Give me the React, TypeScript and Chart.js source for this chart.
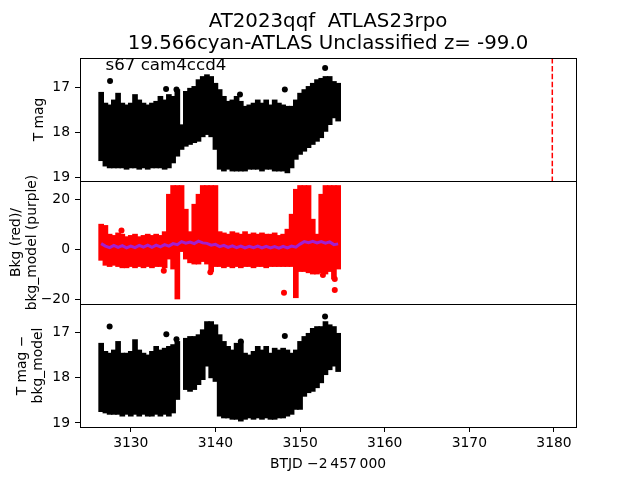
import React, { useEffect, useRef } from "react";
import { Chart, registerables } from "chart.js";

Chart.register(...registerables);

// ---------- text ----------
const titleLines = ["AT2023qqf  ATLAS23rpo", "19.566cyan-ATLAS Unclassified z= -99.0"];
const panelNote = "s67 cam4ccd4";
const xAxisTitle = "BTJD \u22122\u2009457\u2009000";
const yTitleTop = ["T mag"];
const yTitleMiddle = ["Bkg (red)/", "bkg_model (purple)"];
const yTitleBottom = ["T mag \u2212", "bkg_model"];
const discoveryTime = 3179.8;

// ---------- ticks ----------
const xTicks = [3130, 3140, 3150, 3160, 3170, 3180];
const magTicks = [17, 18, 19];
const bkgTicks = [-20, 0, 20];

// ---------- binned light curve (time bins, BTJD - 2457000) ----------
const binTimes = [
  3126.5, 3127.0, 3127.5, 3128.0, 3128.5, 3129.0, 3129.5, 3130.0, 3130.5, 3131.0,
  3131.5, 3132.0, 3132.5, 3133.0, 3133.5, 3134.0, 3134.5, 3135.0, 3135.5, 3136.0,
  3136.5, 3137.0, 3137.5, 3138.0, 3138.5, 3139.0, 3139.5, 3140.0, 3140.5, 3141.0,
  3141.5, 3142.0, 3142.5, 3143.0, 3143.5, 3144.0, 3144.5, 3145.0, 3145.5, 3146.0,
  3146.5, 3147.0, 3147.5, 3148.0, 3148.5, 3149.0, 3149.5, 3150.0, 3150.5, 3151.0,
  3151.5, 3152.0, 3152.5, 3153.0, 3153.5, 3154.0, 3154.5,
];

// top panel: T mag range (bright edge, faint edge incl. error bars)
const tmagBright = [
  17.10, 17.34, 17.38, 17.27, 17.12, 17.34, 17.38, 17.34, 17.15, 17.27,
  17.34, 17.38, 17.34, 17.30, 17.19, 17.27, 17.15, 17.19, 17.04, 17.82,
  17.08, 17.01, 16.97, 16.82, 16.75, 16.71, 16.75, 16.90, 17.04, 17.19,
  17.30, 17.27, 17.19, 17.30, 17.41, 17.38, 17.34, 17.27, 17.34, 17.27,
  17.38, 17.27, 17.34, 17.38, 17.41, 17.41, 17.27, 17.12, 17.04, 16.97,
  16.90, 16.82, 16.79, 16.75, 16.75, 16.86, 16.90,
];
const tmagFaint = [
  18.62, 18.74, 18.78, 18.78, 18.78, 18.78, 18.81, 18.78, 18.78, 18.81,
  18.78, 18.81, 18.78, 18.78, 18.78, 18.81, 18.78, 18.67, 18.52, 18.37,
  18.30, 18.26, 18.22, 18.19, 18.09, 18.04, 18.09, 18.37, 18.81, 18.85,
  18.81, 18.85, 18.85, 18.85, 18.85, 18.81, 18.81, 18.81, 18.85, 18.81,
  18.81, 18.85, 18.85, 18.85, 18.89, 18.78, 18.59, 18.48, 18.41, 18.33,
  18.26, 18.19, 18.11, 17.97, 17.82, 17.67, 17.74,
];

// middle panel: background flux range
const bkgHigh = [
  10.0, 9.5, 6.0, 5.5, 6.5, 6.0, 5.0, 5.5, 6.0, 5.0,
  5.5, 6.0, 5.5, 6.0, 5.5, 7.0, 22.0, 25.5, 25.5, 25.5,
  16.0, 7.0, 18.0, 22.0, 25.5, 25.5, 25.5, 25.5, 7.0, 6.5,
  6.0, 7.0, 6.5, 6.0, 7.0, 6.0, 6.5, 6.0, 6.5, 6.0,
  6.0, 6.5, 5.5, 6.0, 8.0, 14.0, 24.0, 25.5, 25.5, 25.5,
  12.0, 6.0, 22.0, 25.5, 25.5, 25.5, 25.5,
];
const bkgLow = [
  -4.5, -6.5, -7.0, -6.5, -7.0, -7.5, -7.5, -7.0, -7.5, -7.0,
  -7.5, -7.0, -7.5, -7.0, -7.0, -7.5, -4.0, -8.0, -20.0, -1.0,
  -4.0, -5.5, -6.0, -6.0, -5.0, -6.0, -9.0, -7.0, -7.0, -7.5,
  -7.0, -7.5, -7.0, -7.5, -7.0, -7.0, -7.5, -7.0, -7.0, -7.5,
  -7.0, -7.0, -7.0, -7.0, -7.0, -7.0, -19.5, -9.0, -9.0, -9.5,
  -10.0, -10.0, -9.5, -10.0, -9.0, -12.0, -8.0,
];
const bkgModel = [
  2.2, 1.2, 0.6, 1.5, 0.7, 1.4, 0.5, 1.2, 0.6, 1.5,
  0.8, 1.6, 0.7, 1.6, 0.9, 1.8, 1.2, 2.2, 1.8, 3.0,
  2.4, 2.8, 2.2, 3.2, 2.5, 2.3, 1.6, 1.9, 1.0, 1.5,
  0.7, 1.3, 0.6, 1.2, 0.5, 1.1, 0.6, 1.2, 0.5, 1.1,
  0.5, 1.0, 0.4, 1.1, 0.5, 1.2, 0.8, 2.0, 3.0, 2.6,
  3.1, 2.5, 3.0, 2.4, 2.9, 1.8, 2.1,
];

// bottom panel: T mag - bkg_model range (null = no data)
const corrBright = [
  17.23, 17.41, 17.45, 17.38, 17.19, 17.45, 17.45, 17.41, 17.15, 17.38,
  17.45, 17.49, 17.41, 17.30, 17.38, 17.34, 17.30, 17.26, 17.19, null,
  17.12, 17.08, 17.08, 17.04, 16.93, 16.75, 16.75, 16.82, 17.04, 17.19,
  17.30, 17.38, 17.23, 17.19, 17.45, 17.49, 17.41, 17.30, 17.38, 17.30,
  17.45, 17.34, 17.38, 17.34, 17.38, 17.45, 17.38, 17.19, 17.08, 17.01,
  16.90, 16.86, 16.86, 16.75, 16.82, 16.86, 17.01,
];
const corrFaint = [
  18.75, 18.78, 18.81, 18.81, 18.81, 18.85, 18.81, 18.85, 18.81, 18.85,
  18.81, 18.85, 18.85, 18.81, 18.85, 18.81, 18.85, 18.78, 18.48, null,
  18.26, 18.30, 18.26, 18.15, 18.04, 17.74, 18.00, 18.08, 18.85, 18.89,
  18.89, 18.92, 18.92, 18.96, 18.92, 18.89, 18.92, 18.89, 18.92, 18.89,
  18.92, 18.92, 18.89, 18.89, 18.85, 18.81, 18.70, 18.70, 18.41, 18.33,
  18.30, 18.22, 18.11, 17.93, 17.82, 17.74, 17.86,
];

// isolated points
const tmagOutTimes = [3127.55, 3134.17, 3135.4, 3142.9, 3148.2, 3152.96];
const tmagOutValues = [16.85, 17.03, 17.04, 17.15, 17.04, 16.56];
const corrOutTimes = [3127.5, 3134.2, 3135.4, 3143.0, 3148.2, 3152.95];
const corrOutValues = [16.86, 17.03, 17.14, 17.19, 17.07, 16.64];
const bkgOutTimes = [3128.9, 3133.9, 3139.4, 3148.1, 3152.7, 3154.1, 3154.1];
const bkgOutValues = [7.5, -8.7, -9.3, -17.5, -10.4, -12.0, -16.4];

const FONT = "DejaVu Sans";
const TICK_PX = 13.89;
const NOTE_PX = 16.67;
const TITLE_PX = 19.8;

const fmt = (v: number) => (v < 0 ? "\u2212" + Math.abs(v) : String(v));

export default function App() {
  const ref = useRef<HTMLCanvasElement>(null);

  useEffect(() => {
    const canvas = ref.current;
    if (!canvas) return;

    const ranges = (lo: (number | null)[], hi: (number | null)[]) =>
      binTimes
        .map((t, i) => ({ x: t, a: lo[i], b: hi[i] }))
        .filter((d) => d.a != null && d.b != null)
        .map((d) => ({ x: d.x, y: [d.a as number, d.b as number] }));
    const pts = (ts: number[], vs: number[]) => ts.map((t, i) => ({ x: t, y: vs[i] }));

    const barCommon = {
      type: "bar" as const,
      grouped: false,
      barThickness: 5,
      borderWidth: 0,
      borderSkipped: false,
      order: 3,
    };
    const dotCommon = {
      type: "line" as const,
      showLine: false,
      pointRadius: 3,
      pointBorderWidth: 0,
      order: 2,
    };

    const tickCfg = (values: number[]) => ({
      afterBuildTicks: (s: any) => {
        s.ticks = values.map((v) => ({ value: v }));
      },
    });

    const yScale = (min: number, max: number, reverse: boolean, values: number[]) => ({
      type: "linear" as const,
      position: "left" as const,
      stack: "panels",
      stackWeight: 1,
      offset: false,
      reverse,
      min,
      max,
      grid: { offset: false, drawOnChartArea: false, drawTicks: true, tickLength: 5, tickColor: "#000", tickWidth: 1 },
      border: { display: false },
      ticks: {
        color: "#000",
        font: { family: FONT, size: TICK_PX },
        padding: 5,
        autoSkip: false,
        callback: (v: any) => fmt(Number(v)),
      },
      afterFit: (s: any) => {
        s.width = 80;
      },
      ...tickCfg(values),
    });

    const decor = {
      id: "decor",
      afterDraw(chart: any) {
        const { ctx, chartArea, scales } = chart;
        ctx.save();
        const L = Math.round(chartArea.left) + 0.5;
        const R = Math.round(chartArea.right) + 0.5;
        const cx = (chartArea.left + chartArea.right) / 2;

        // discovery line in top panel
        const xd = scales.x.getPixelForValue(discoveryTime);
        ctx.strokeStyle = "#ff0000";
        ctx.lineWidth = 1.5;
        ctx.setLineDash([5.5, 2.4]);
        ctx.beginPath();
        ctx.moveTo(xd, scales.y1.top);
        ctx.lineTo(xd, scales.y1.bottom);
        ctx.stroke();
        ctx.setLineDash([]);

        // panel frames
        ctx.strokeStyle = "#000";
        ctx.lineWidth = 1;
        ["y1", "y2", "y3"].forEach((id) => {
          const s = scales[id];
          const T = Math.round(s.top) + 0.5;
          const B = Math.round(s.bottom) + 0.5;
          ctx.strokeRect(L, T, R - L, B - T);
        });

        ctx.fillStyle = "#000";
        // title
        ctx.font = `${TITLE_PX}px "${FONT}"`;
        ctx.textAlign = "center";
        ctx.textBaseline = "alphabetic";
        ctx.fillText(titleLines[0], cx, 27.3);
        ctx.fillText(titleLines[1], cx, 48.5);

        // note
        ctx.font = `${NOTE_PX}px "${FONT}"`;
        ctx.textAlign = "left";
        ctx.fillText(panelNote, 105.5, 70);

        // x title
        ctx.font = `${TICK_PX}px "${FONT}"`;
        ctx.textAlign = "center";
        ctx.fillText(xAxisTitle, cx, 468);

        // y titles
        const rot = (lines: string[], xs: number[], id: string) => {
          const s = scales[id];
          const cy = (s.top + s.bottom) / 2;
          lines.forEach((line, i) => {
            ctx.save();
            ctx.translate(xs[i], cy);
            ctx.rotate(-Math.PI / 2);
            ctx.textAlign = "center";
            ctx.textBaseline = "middle";
            ctx.fillText(line, 0, 0);
            ctx.restore();
          });
        };
        rot(yTitleTop, [39], "y1");
        rot(yTitleMiddle, [16, 32], "y2");
        rot(yTitleBottom, [22, 38], "y3");
        ctx.restore();
      },
    };

    const chart = new Chart(canvas, {
      type: "bar",
      data: {
        datasets: [
          {
            type: "line",
            data: pts(binTimes, bkgModel),
            yAxisID: "y2",
            borderColor: "#a21fd0",
            borderWidth: 3,
            pointRadius: 0,
            tension: 0,
            order: 1,
          } as any,
          { ...dotCommon, data: pts(tmagOutTimes, tmagOutValues), yAxisID: "y1", backgroundColor: "#000" },
          { ...dotCommon, data: pts(bkgOutTimes, bkgOutValues), yAxisID: "y2", backgroundColor: "#ff0000" },
          { ...dotCommon, data: pts(corrOutTimes, corrOutValues), yAxisID: "y3", backgroundColor: "#000" },
          { ...barCommon, data: ranges(tmagBright, tmagFaint), yAxisID: "y1", backgroundColor: "#000" },
          { ...barCommon, data: ranges(bkgLow, bkgHigh), yAxisID: "y2", backgroundColor: "#ff0000" },
          { ...barCommon, data: ranges(corrBright, corrFaint), yAxisID: "y3", backgroundColor: "#000" },
        ] as any,
      },
      options: {
        animation: false,
        responsive: false,
        events: [],
        layout: { padding: { top: 58, right: 64, left: 0, bottom: 0 } },
        plugins: { legend: { display: false }, tooltip: { enabled: false }, title: { display: false } },
        scales: {
          x: {
            type: "linear",
            position: "bottom",
            offset: false,
            min: 3124.0,
            max: 3182.6,
            grid: { offset: false, drawOnChartArea: false, drawTicks: true, tickLength: 5, tickColor: "#000", tickWidth: 1 },
            border: { display: false },
            ticks: {
              color: "#000",
              font: { family: FONT, size: TICK_PX },
              padding: 3,
              maxRotation: 0,
              autoSkip: false,
              callback: (v: any) => fmt(Number(v)),
            },
            afterFit: (s: any) => {
              s.height = 53;
            },
            ...tickCfg(xTicks),
          },
          y3: yScale(16.36, 19.09, true, magTicks),
          y2: yScale(-22, 27.3, false, bkgTicks),
          y1: yScale(16.34, 19.07, true, magTicks),
        } as any,
      },
      plugins: [decor],
    });

    return () => chart.destroy();
  }, []);

  return (
    <div style={{ position: "fixed", left: 0, top: 0, width: 640, height: 480, background: "#fff" }}>
      <canvas ref={ref} width={640} height={480} style={{ display: "block", width: 640, height: 480 }} />
    </div>
  );
}
